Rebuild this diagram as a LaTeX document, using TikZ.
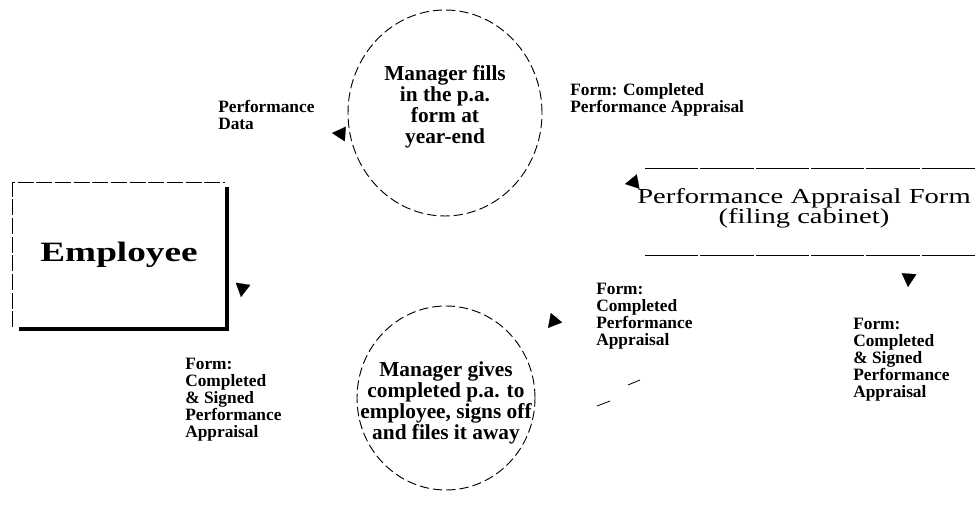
\documentclass[tikz,border=0pt]{standalone}
\usepackage{fontspec}
\setmainfont{Liberation Serif}
\newfontfamily\entityfont{Liberation Serif}[FakeStretch=1.33]
\newfontfamily\storefont{Liberation Serif}[FakeStretch=1.34]
\usetikzlibrary{arrows.meta,shapes.geometric}
\begin{document}
\begin{tikzpicture}[x=0.75pt,y=-0.75pt,
  proc/.style={draw, ellipse, inner sep=0pt, dash pattern=on 7pt off 3pt, line width=0.7pt},
  proctext/.style={font=\fontsize{16}{15.8}\selectfont\bfseries, align=center, inner sep=0pt},
  flowlabel/.style={font=\fontsize{13}{12.7}\selectfont\bfseries, align=left, anchor=north west, inner sep=0pt},
  storetext/.style={font=\storefont\fontsize{16}{15}\selectfont, align=center, inner sep=0pt},
  storeline/.style={line width=0.6pt, dash pattern=on 40pt off 1.5pt},
  flowtip/.style={-{Triangle[length=10pt,width=11pt]}, line width=0.1pt},
]
\useasboundingbox (0,0) rectangle (977,516);

% external entity with drop shadow
\node[minimum width=159pt, minimum height=108pt, inner sep=0pt,
      font=\entityfont\fontsize{21}{23}\selectfont\bfseries] (emp) at (119,255) {Employee};
\draw[line width=0.5pt, dash pattern=on 12pt off 2pt] (emp.south west) -- (emp.north west) -- (emp.north east);
\draw[line width=3pt] ([xshift=1.5pt,yshift=-3pt]emp.north east) -- ([xshift=1.5pt,yshift=-1.5pt]emp.south east)
      -- ([xshift=5pt,yshift=-1.5pt]emp.south west);

% processes
\node[proc, minimum width=145.5pt, minimum height=154.5pt] (p1) at (445,113) {};
\node[proctext] (p1t) at (445,107) {Manager fills\\in the p.a.\\form at\\year-end};
\node[proc, minimum width=133.5pt, minimum height=138pt] (p2) at (446,398) {};
\node[proctext] (p2t) at (446,403) {Manager gives\\completed p.a. to\\employee, signs off\\and files it away};

% data store
\node[storetext] (store) at (804,208) {Performance Appraisal Form\\(filing cabinet)};
\draw[storeline] (645,168) -- (977,168);
\draw[storeline] (645,255) -- (977,255);

% flow labels
\node[flowlabel] (l1) at (218,100) {Performance\\Data};
\node[flowlabel] (l2) at (570,83) {Form: Completed\\Performance Appraisal};
\node[flowlabel] (l3) at (596,283) {Form:\\Completed\\Performance\\Appraisal};
\node[flowlabel] (l4) at (853,318) {Form:\\Completed\\\& Signed\\Performance\\Appraisal};
\node[flowlabel] (l5) at (185,358) {Form:\\Completed\\\& Signed\\Performance\\Appraisal};

% flow arrowheads
\coordinate (a1s) at (345,134);  \coordinate (a1) at (332,133);
\coordinate (a2s) at (638.5,181.5); \coordinate (a2) at (625,184);
\coordinate (a3s) at (909,274);  \coordinate (a3) at (908,287);
\coordinate (a4s) at (557.5,316.5); \coordinate (a4) at (548,328);
\coordinate (a5s) at (243,284);  \coordinate (a5) at (241,297);
\draw[flowtip] (a1s) -- (a1);
\draw[flowtip] (a2s) -- (a2);
\draw[flowtip] (a3s) -- (a3);
\draw[flowtip] (a4s) -- (a4);
\draw[flowtip] (a5s) -- (a5);

% remains of the flow from the second process to the store
\coordinate (f1) at (597,406); \coordinate (f2) at (610,401);
\coordinate (f3) at (628,385); \coordinate (f4) at (640,380);
\draw[line width=0.6pt] (f1) -- (f2);
\draw[line width=0.6pt] (f3) -- (f4);
\end{tikzpicture}
\end{document}
